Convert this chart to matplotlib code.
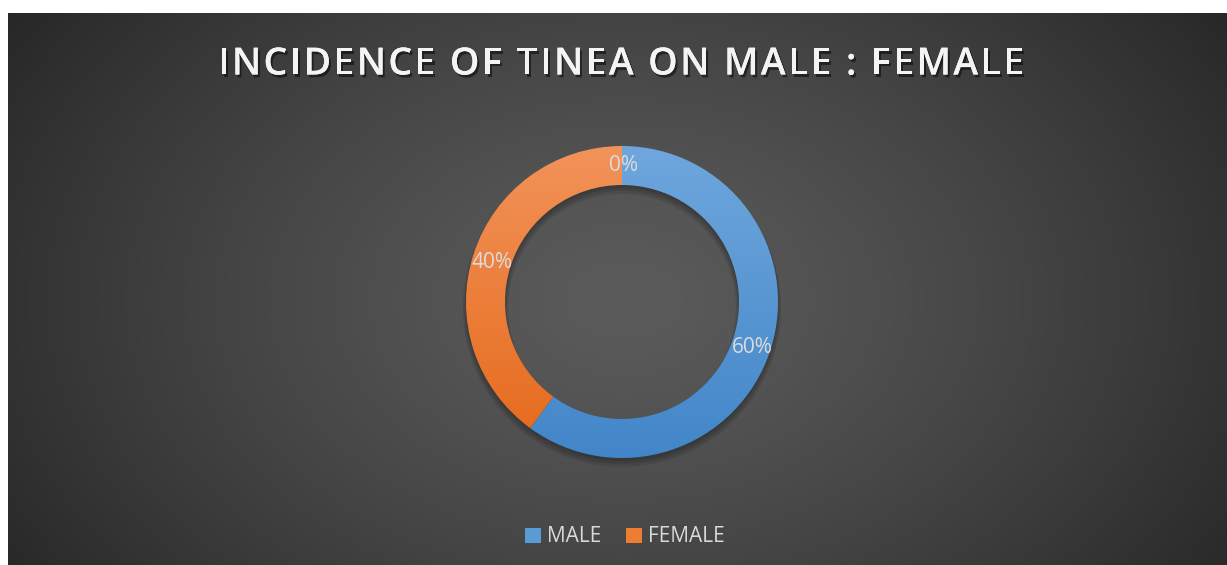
import numpy as np
import matplotlib
matplotlib.use("Agg")
import matplotlib.pyplot as plt
from matplotlib.patches import Patch, Wedge
from matplotlib.font_manager import FontProperties
import matplotlib.patheffects as pe

# ---- data ----
categories = ["MALE", "FEMALE", ""]
values = [60, 40, 0]
pct_labels = ["60%", "40%", "0%"]
legend_labels = ["MALE", "FEMALE"]
title = "INCIDENCE OF TINEA ON MALE : FEMALE"

W, H = 1227, 565
fig = plt.figure(figsize=(W / 100, H / 100), dpi=100)
fig.patch.set_facecolor("white")

# ---- background panel with radial gradient ----
left, top = 8, 13
bg = fig.add_axes([left / W, 0, (W - left) / W, (H - top) / H])
bg.set_axis_off()
nx, ny = 600, 280
xx, yy = np.meshgrid(np.linspace(0, 1, nx), np.linspace(0, 1, ny))
cx, cy = 0.505, 0.52
r = np.sqrt(((xx - cx) / 0.62) ** 2 + ((yy - cy) / 0.95) ** 2)
r = np.clip(r, 0, 1)
c0, c1 = 0x5b / 255, 0x26 / 255
val = c0 + (c1 - c0) * r ** 1.3
img = np.dstack([val, val, val])
bg.imshow(img, extent=[0, 1, 0, 1], aspect="auto", origin="upper")
bg.set_xlim(0, 1)
bg.set_ylim(0, 1)

# ---- donut ----
cxp, cyp, R = 622, 302, 156
box = 170
ax = fig.add_axes([(cxp - box) / W, (H - cyp - box) / H, 2 * box / W, 2 * box / H])
lim = box / R
ax.set_aspect("equal")
ax.set_axis_off()

ring_w = 0.25

# shadow
for k, a in enumerate([0.10, 0.10, 0.10]):
    sh = Wedge((0.0, -0.02 - 0.008 * k), 1.0 + 0.01 * k, 0, 360,
               width=ring_w + 0.02 * k, facecolor="black", alpha=a, lw=0, zorder=1)
    ax.add_patch(sh)

top_cols = ["#6fa7dd", "#f2935a", "#888888"]
bot_cols = ["#4286c9", "#e5691a", "#888888"]
legend_cols = ["#5b9bd5", "#ed7d31"]
wedges, _ = ax.pie(values, startangle=90, counterclock=False, radius=1.0,
                   wedgeprops=dict(width=ring_w, linewidth=0, edgecolor="none"),
                   colors=top_cols[:len(values)])

def hex2rgb(h):
    h = h.lstrip("#")
    return np.array([int(h[i:i + 2], 16) / 255 for i in (0, 2, 4)])

g = np.linspace(0, 1, 256)[:, None]
for i, w in enumerate(wedges):
    w.set_zorder(2)
    t = hex2rgb(top_cols[i]); b = hex2rgb(bot_cols[i])
    grad = t[None, None, :] * (1 - g[:, :, None]) + b[None, None, :] * g[:, :, None]
    grad = np.repeat(grad, 2, axis=1)
    im = ax.imshow(grad, extent=[-1, 1, -1, 1], origin="upper", aspect="auto", zorder=3)
    im.set_clip_path(w)
    w.set_facecolor("none")

ax.set_xlim(-lim, lim)
ax.set_ylim(-lim, lim)

# percentage labels at wedge mid-angles
rl = 1.0 - ring_w / 2
dy = -0.02
for w, lab in zip(wedges, pct_labels):
    ang = np.deg2rad((w.theta1 + w.theta2) / 2)
    x, y = rl * np.cos(ang), rl * np.sin(ang) + dy
    if lab == "0%":
        y = 0.875
        x = 0.01
    ax.text(x, y, lab, ha="center", va="center", fontsize=15, color="#dcdcdc",
            family="Open Sans", zorder=5)

# ---- title with letter spacing ----
renderer = fig.canvas.get_renderer()
tprop = FontProperties(family="Open Sans", weight="semibold", size=27)
def tw(s):
    w, h, d = renderer.get_text_width_height_descent(s + "I", tprop, ismath=False)
    w0, _, _ = renderer.get_text_width_height_descent("I", tprop, ismath=False)
    return w - w0
natural = tw(title)
target = 806.0
n = len(title)
spacing = (target - natural) / (n - 1)
x0 = 621 - target / 2
ty = 1 - 60 / H
for i, ch in enumerate(title):
    if ch == " ":
        continue
    xp = x0 + tw(title[:i]) + i * spacing
    fig.text(xp / W, ty, ch, ha="left", va="center_baseline", fontproperties=tprop,
             color="#f4f4f4",
             path_effects=[pe.withSimplePatchShadow(offset=(1.5, -2), shadow_rgbFace="black", alpha=0.5),
                           pe.Normal()])

# ---- legend ----
handles = [Patch(facecolor=legend_cols[0]), Patch(facecolor=legend_cols[1])]
leg = fig.legend(handles, legend_labels, loc="center", bbox_to_anchor=(625 / W, 1 - 537 / H),
                 ncol=2, frameon=False, handlelength=0.75, handleheight=0.75,
                 handletextpad=0.3, columnspacing=1.2,
                 prop=dict(family="Open Sans", size=15))
for t in leg.get_texts():
    t.set_color("#d9d9d9")

fig.savefig("out.png", dpi=100, facecolor=fig.get_facecolor())
